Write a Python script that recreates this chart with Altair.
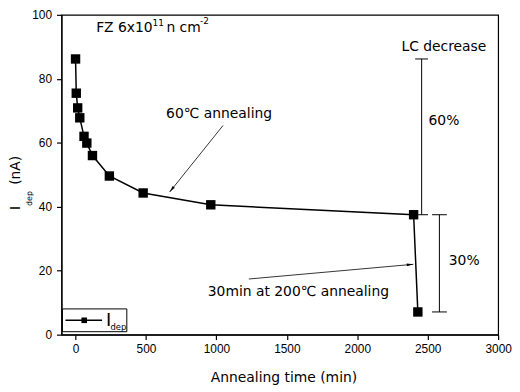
import altair as alt
import pandas as pd

# ---- data ----
time_min = [0, 5, 15, 30, 60, 80, 120, 240, 480, 960, 2400, 2430]
i_dep = [86.2, 75.5, 70.9, 67.8, 62.0, 59.9, 56.0, 49.6, 44.3, 40.6, 37.5, 7.1]

x_ticks = [0, 500, 1000, 1500, 2000, 2500, 3000]
y_ticks = [0, 20, 40, 60, 80, 100]

# annotation brackets / arrow shafts (data coordinates)
seg_x = [2457, 2411, 2432, 2583, 2531, 2531, 1047, 1230]
seg_x2 = [2457, 2502, 2502, 2583, 2636, 2636, 668, 2398]
seg_y = [86.2, 86.2, 37.5, 37.5, 37.5, 7.1, 65.4, 17.4]
seg_y2 = [37.5, 86.2, 37.5, 7.1, 37.5, 7.1, 44.6, 22.0]
seg_w = [1, 1, 1, 1, 1, 1, 0.8, 0.8]

# arrow heads
head_x = [668, 2398]
head_y = [44.6, 22.0]
head_ang = [218.5, 84.8]

# annotation texts (data coordinates, alphabetic baseline)
ann_text = ["60\u2103 annealing", "LC decrease", "60%", "30%", "30min at 200\u2103 annealing"]
ann_x = [1019, 2615, 2615, 2759, 1582]
ann_y = [67.6, 88.7, 65.6, 21.7, 12.2]

W, H = 441, 323
FONT = "DejaVu Sans"
TICKFONT = "Liberation Sans"

df = pd.DataFrame({"t": time_min, "i": i_dep})
seg = pd.DataFrame({"x": seg_x, "x2": seg_x2, "y": seg_y, "y2": seg_y2, "w": seg_w})
heads = pd.DataFrame({"x": head_x, "y": head_y, "a": head_ang})
ann = pd.DataFrame({"x": ann_x, "y": ann_y, "text": ann_text})
one = pd.DataFrame({"z": [0]})

xs = alt.Scale(domain=[-100, 3000], nice=False, zero=False)
ys = alt.Scale(domain=[0, 100], nice=False, zero=False)

xaxis = alt.Axis(values=x_ticks, format="d", title=None, grid=False, domainColor="black", domainWidth=1.2,
                 tickColor="black", tickSize=5, tickWidth=1.2, labelFont=TICKFONT, labelFontSize=12,
                 labelColor="black", labelPadding=4, labelFlush=False, labelOverlap=False)
yaxis = alt.Axis(values=y_ticks, format="d", title=None, grid=False, domainColor="black", domainWidth=1.2,
                 tickColor="black", tickSize=5, tickWidth=1.2, labelFont=TICKFONT, labelFontSize=12,
                 labelColor="black", labelPadding=5, labelFlush=False, labelOverlap=False)

line = alt.Chart(df).mark_line(color="black", strokeWidth=1.5).encode(
    x=alt.X("t:Q", scale=xs, axis=xaxis),
    y=alt.Y("i:Q", scale=ys, axis=yaxis),
    order="t:Q",
)
pts = alt.Chart(df).mark_point(shape="square", filled=True, size=90, color="black", opacity=1).encode(
    x=alt.X("t:Q", scale=xs), y=alt.Y("i:Q", scale=ys)
)
segs = alt.Chart(seg).mark_rule(color="black").encode(
    x=alt.X("x:Q", scale=xs), x2="x2:Q",
    y=alt.Y("y:Q", scale=ys), y2="y2:Q",
    strokeWidth=alt.StrokeWidth("w:Q", scale=None),
)
arrow = alt.Chart(heads).mark_point(
    shape="M0,0L0.38,1.8L-0.38,1.8Z", filled=True, size=55, color="black", opacity=1
).encode(
    x=alt.X("x:Q", scale=xs), y=alt.Y("y:Q", scale=ys), angle=alt.Angle("a:Q", scale=None)
)
texts = alt.Chart(ann).mark_text(font=FONT, fontSize=14, align="center", baseline="alphabetic",
                                 color="black").encode(
    x=alt.X("x:Q", scale=xs), y=alt.Y("y:Q", scale=ys), text="text:N"
)


def ptext(txt, px, py, size=14, align="left", angle=0):
    kw = dict(font=FONT, fontSize=size, align=align, baseline="alphabetic", color="black")
    if angle:
        kw["angle"] = angle
    return alt.Chart(one).mark_text(text=txt, **kw).encode(x=alt.value(px), y=alt.value(py))


# title "FZ 6x10^11 n cm^-2"
fz = [
    ptext("FZ 6x10", 35, 17.5),
    ptext("11", 92, 11, size=9),
    ptext("n cm", 106, 17.5),
    ptext("-2", 140, 9, size=9),
]
# y axis title  I_dep (nA)
ytitle = [
    ptext("I", -42, 195, align="center", angle=270),
    ptext("dep", -30, 185.5, size=8, align="center", angle=270),
    ptext("(nA)", -42, 157, align="center", angle=270),
]
xtitle = [ptext("Annealing time (min)", 224.7, 371, align="center")]

# legend
leg_box = alt.Chart(one).mark_rect(fill="white", stroke="black", strokeWidth=1).encode(
    x=alt.value(1), x2=alt.value(66), y=alt.value(297), y2=alt.value(320)
)
leg_line = alt.Chart(one).mark_rule(color="black", strokeWidth=1.5).encode(
    x=alt.value(4), x2=alt.value(41), y=alt.value(308.5)
)
leg_pt = alt.Chart(one).mark_point(shape="square", filled=True, size=32, color="black", opacity=1).encode(
    x=alt.value(23), y=alt.value(308.5)
)
leg_txt = [ptext("I", 45, 314, size=18), ptext("dep", 49.5, 318, size=8.5)]

chart = alt.layer(
    line, pts, segs, arrow, texts, *fz, *ytitle, *xtitle, leg_box, leg_line, leg_pt, *leg_txt
).properties(
    width=W, height=H,
    autosize=alt.AutoSizeParams(type="none"),
    padding={"left": 54, "top": 5, "right": 14, "bottom": 55},
).configure_view(stroke="black", strokeWidth=1.2)

chart.save("out.html", embed_options={"renderer": "svg", "actions": False})
